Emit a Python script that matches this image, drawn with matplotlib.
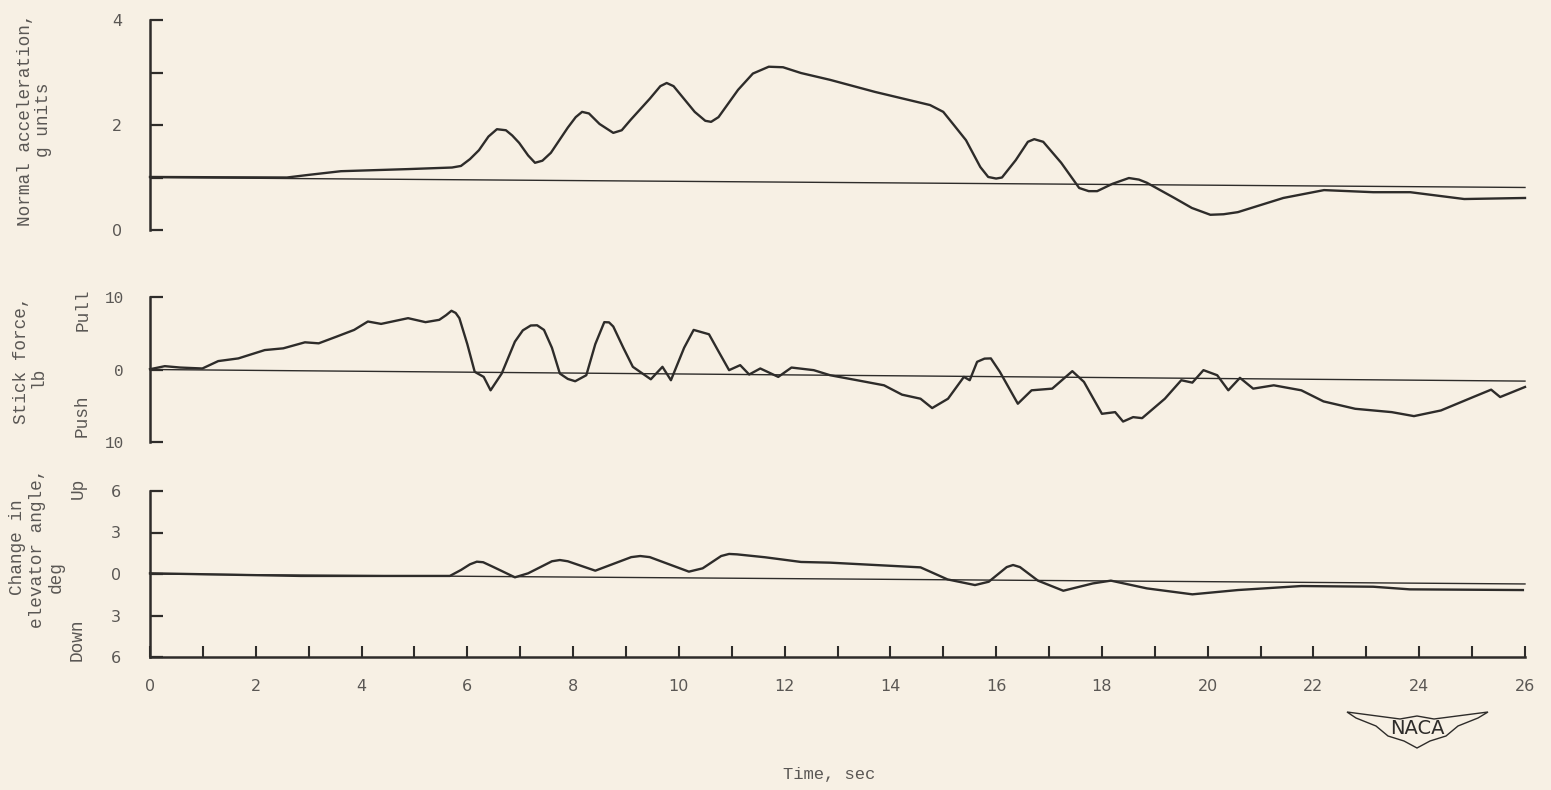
#!/usr/bin/env python3

import matplotlib
matplotlib.use('Agg')
import matplotlib.pyplot as plt
from matplotlib.patches import Polygon


# time histories (time in sec)
t_accel = [0.0, 2.59, 3.0, 3.61, 4.88, 5.71, 5.88, 6.05, 6.22, 6.4, 6.56, 6.73,
           6.85, 6.98, 7.15, 7.28, 7.42, 7.58, 7.9, 8.05, 8.17, 8.3, 8.5, 8.76,
           8.92, 9.09, 9.45, 9.65, 9.77, 9.9, 10.3, 10.5, 10.61, 10.75, 11.12,
           11.4, 11.7, 11.97, 12.31, 12.86, 13.71, 14.75, 15.0, 15.2, 15.43, 15.7,
           15.85, 16.0, 16.11, 16.37, 16.6, 16.72, 16.89, 17.23, 17.57, 17.75,
           17.91, 18.2, 18.51, 18.7, 18.85, 19.37, 19.7, 20.05, 20.3, 20.57,
           21.43, 22.2, 23.13, 23.83, 24.85, 26.0]
accel = [1.01, 1.0, 1.05, 1.12, 1.16, 1.19, 1.22, 1.35, 1.52, 1.78, 1.92, 1.90,
         1.80, 1.66, 1.42, 1.28, 1.32, 1.47, 1.95, 2.15, 2.25, 2.22, 2.02, 1.85,
         1.90, 2.10, 2.50, 2.74, 2.80, 2.74, 2.25, 2.08, 2.06, 2.15, 2.67,
         2.98, 3.11, 3.10, 2.99, 2.86, 2.63, 2.38, 2.25, 2.0, 1.71, 1.2,
         1.01, 0.98, 1.0, 1.33, 1.68, 1.73, 1.68, 1.28, 0.80, 0.74,
         0.74, 0.88, 0.99, 0.96, 0.90, 0.61, 0.42, 0.29, 0.30, 0.34,
         0.61, 0.76, 0.72, 0.72, 0.59, 0.61]
accel_ref_t = [0.0, 26.0]
accel_ref = [1.0, 0.81]

t_force = [0.0, 0.28, 0.57, 0.99, 1.29, 1.67, 2.17, 2.52, 2.93, 3.19, 3.53, 3.86,
           4.12, 4.37, 4.88, 5.21, 5.47, 5.6, 5.70, 5.78, 5.85, 6.0, 6.14, 6.31,
           6.44, 6.65, 6.9, 7.05, 7.2, 7.32, 7.45, 7.6, 7.75, 7.9, 8.04, 8.25,
           8.42, 8.59, 8.68, 8.76, 8.95, 9.13, 9.47, 9.69, 9.85, 10.1, 10.28,
           10.57, 10.75, 10.95, 11.16, 11.33, 11.54, 11.88, 12.13, 12.55, 12.86,
           13.37, 13.88, 14.22, 14.57, 14.79, 15.09, 15.39, 15.5, 15.64, 15.78,
           15.9, 16.07, 16.41, 16.67, 17.06, 17.44, 17.66, 18.0, 18.25, 18.4,
           18.59, 18.76, 19.19, 19.5, 19.71, 19.92, 20.18, 20.39, 20.61, 20.86,
           21.25, 21.77, 22.19, 22.79, 23.48, 23.9, 24.41, 25.02, 25.36, 25.53,
           26.0]
force = [0.04, 0.46, 0.27, 0.14, 1.16, 1.53, 2.68, 2.92, 3.75, 3.61, 4.54, 5.46,
         6.62, 6.29, 7.08, 6.53, 6.85, 7.5, 8.1, 7.8, 7.08, 3.5, -0.32, -1.02,
         -2.87, -0.56, 3.84, 5.4, 6.07, 6.1, 5.46, 3.0, -0.56, -1.3, -1.62, -0.79,
         3.5, 6.53, 6.5, 5.93, 3.0, 0.37, -1.35, 0.37, -1.48, 3.0, 5.46,
         4.86, 2.5, -0.09, 0.6, -0.69, 0.14, -1.02, 0.27, -0.09, -0.79,
         -1.48, -2.18, -3.47, -4.03, -5.32, -4.03, -1.02, -1.48, 1.06, 1.5,
         1.53, -0.32, -4.72, -2.87, -2.64, -0.23, -1.71, -6.11, -5.88, -7.18,
         -6.57, -6.71, -4.03, -1.48, -1.81, -0.09, -0.79, -2.87, -1.15, -2.64,
         -2.18, -2.87, -4.4, -5.42, -5.88, -6.43, -5.65, -3.8, -2.78, -3.8,
         -2.41]
force_ref_t = [0.0, 26.0]
force_ref = [0.0, -1.6]

t_elev = [0.0, 2.85, 5.67, 5.88, 6.05, 6.18, 6.3, 6.48, 6.9, 7.15, 7.6, 7.75,
          7.9, 8.42, 9.1, 9.27, 9.45, 10.19, 10.45, 10.8, 10.95, 11.1, 11.63,
          12.31, 12.86, 14.57, 15.08, 15.6, 15.86, 16.2, 16.32, 16.45, 16.79,
          17.27, 17.83, 18.17, 18.85, 19.71, 20.57, 21.77, 23.13, 23.82, 25.96]
elev = [0.05, -0.14, -0.14, 0.29, 0.7, 0.89, 0.85, 0.53, -0.24, 0.05, 0.92, 1.01,
        0.92, 0.24, 1.22, 1.30, 1.22, 0.17, 0.41, 1.3, 1.45, 1.42, 1.21,
        0.87, 0.82, 0.48, -0.39, -0.8, -0.56, 0.5, 0.65, 0.5, -0.48,
        -1.21, -0.68, -0.48, -1.04, -1.47, -1.16, -0.87, -0.92, -1.11, -1.16]
elev_ref_t = [0.0, 26.0]
elev_ref = [0.0, -0.72]

x_ticks = list(range(0, 27))
x_labels = [str(v) if v % 2 == 0 else '' for v in x_ticks]

PAPER = '#f7f0e4'
INK = '#2e2c2a'
TEXT = '#5a5754'
MONO = 'Liberation Mono'
W, H = 1551, 790


def fx(px):
	return px / W


def fy(py):
	return 1 - py / H


def style_axis(ax, ylim, yticks, ylabels, pad, tick_font):
	ax.set_facecolor('none')
	ax.set_xlim(0, 26)
	ax.set_ylim(*ylim)
	for side in ('top', 'right', 'bottom'):
		ax.spines[side].set_visible(False)
	ax.spines['left'].set_linewidth(1.8)
	ax.spines['left'].set_color(INK)
	ax.set_yticks(yticks)
	ax.set_yticklabels(ylabels, family=tick_font, fontsize=11.5, color=TEXT)
	ax.tick_params(axis='y', direction='in', length=9, width=1.6, color=INK, pad=pad)
	ax.set_xticks([])


def main():
	fig = plt.figure(figsize=(W / 100, H / 100), dpi=100, facecolor=PAPER)

	left, width = fx(150), fx(1525) - fx(150)
	ax1 = fig.add_axes([left, fy(230), width, fy(20) - fy(230)])
	ax2 = fig.add_axes([left, fy(442), width, fy(297) - fy(442)])
	ax3 = fig.add_axes([left, fy(657), width, fy(491) - fy(657)])

	style_axis(ax1, (0, 4), [0, 1, 2, 3, 4], ['0', '', '2', '', '4'], 20, 'DejaVu Sans')
	style_axis(ax2, (-10, 10), [-10, 0, 10], ['10', '0', '10'], 19, MONO)
	style_axis(ax3, (-6, 6), [-6, -3, 0, 3, 6], ['6', '3', '0', '3', '6'], 21, 'DejaVu Sans')

	ax3.spines['bottom'].set_visible(True)
	ax3.spines['bottom'].set_linewidth(1.8)
	ax3.spines['bottom'].set_color(INK)
	ax3.set_xticks(x_ticks)
	ax3.set_xticklabels(x_labels, family='DejaVu Sans', fontsize=11.5, color=TEXT)
	ax3.tick_params(axis='x', direction='in', length=8, width=1.5, color=INK, pad=16)

	for ax, rt, rv, t, v in ((ax1, accel_ref_t, accel_ref, t_accel, accel),
	                         (ax2, force_ref_t, force_ref, t_force, force),
	                         (ax3, elev_ref_t, elev_ref, t_elev, elev)):
		ax.plot(rt, rv, color=INK, lw=1.0, clip_on=False)
		ax.plot(t, v, color=INK, lw=1.7, solid_joinstyle='round', clip_on=False)

	lab = dict(family=MONO, fontsize=12.8, color=TEXT, rotation=90,
	           ha='center', va='center')
	fig.text(fx(26), fy(120), 'Normal acceleration,', **lab)
	fig.text(fx(43), fy(120), 'g units', **lab)
	fig.text(fx(22), fy(360), 'Stick force,', **lab)
	fig.text(fx(38), fy(377), 'lb', **lab)
	fig.text(fx(83), fy(310), 'Pull', **lab)
	fig.text(fx(82), fy(416), 'Push', **lab)
	fig.text(fx(18), fy(547), 'Change in', **lab)
	fig.text(fx(38), fy(548), 'elevator angle,', **lab)
	fig.text(fx(56), fy(577), 'deg', **lab)
	fig.text(fx(78), fy(488), 'Up', **lab)
	fig.text(fx(77), fy(640), 'Down', **lab)
	fig.text(fx(829), fy(774), 'Time, sec', family=MONO, fontsize=12.3, color=TEXT,
	         ha='center', va='center')

	# NACA wings
	wing = [(1347, 712), (1400, 719), (1417, 716), (1434, 719), (1488, 712),
	        (1478, 718), (1458, 726), (1446, 736), (1430, 741), (1417, 748),
	        (1404, 741), (1388, 736), (1376, 726), (1356, 718)]
	fig.patches.append(Polygon([(fx(a), fy(b)) for a, b in wing], closed=True,
	                           transform=fig.transFigure, facecolor=PAPER,
	                           edgecolor=INK, lw=1.0))
	fig.text(fx(1417), fy(728), 'NACA', family='DejaVu Sans', fontsize=14,
	         color=INK, ha='center', va='center')

	fig.savefig('out.png', dpi=100, facecolor=PAPER)


if __name__ == '__main__':
	main()
